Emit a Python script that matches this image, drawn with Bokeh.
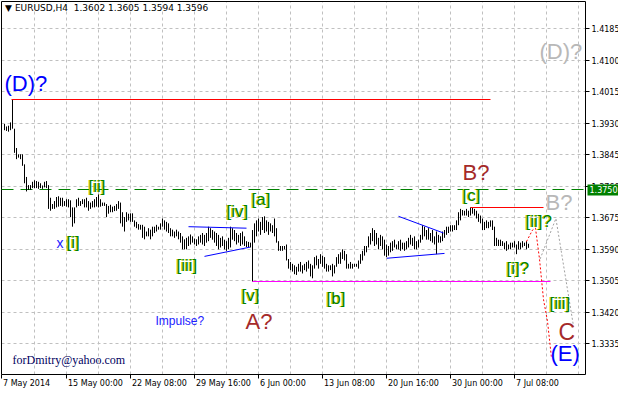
from bokeh.plotting import figure
from bokeh.models import Range1d, Label, ColumnDataSource
from bokeh.core.properties import value
from bokeh.embed import file_html
from bokeh.resources import INLINE

# ---------------- data (EURUSD H4) ----------------
highs = [
    1.3928, 1.3921, 1.3923, 1.3932, 1.3995, 1.3915, 1.3863, 1.3846, 1.3846, 1.3846,
    1.3819, 1.3785, 1.3763, 1.3763, 1.3772, 1.3776, 1.3774, 1.3772, 1.3768, 1.3762,
    1.3772, 1.3774, 1.3763, 1.3729, 1.3712, 1.3720, 1.3731, 1.3733, 1.3729, 1.3729,
    1.3720, 1.3725, 1.3725, 1.3722, 1.3703, 1.3703, 1.3725, 1.3729, 1.3720, 1.3725,
    1.3725, 1.3729, 1.3720, 1.3716, 1.3720, 1.3725, 1.3731, 1.3738, 1.3725, 1.3716,
    1.3716, 1.3712, 1.3707, 1.3710, 1.3705, 1.3707, 1.3712, 1.3720, 1.3716, 1.3690,
    1.3677, 1.3690, 1.3686, 1.3687, 1.3687, 1.3668, 1.3664, 1.3658, 1.3656, 1.3656,
    1.3651, 1.3638, 1.3647, 1.3643, 1.3651, 1.3651, 1.3656, 1.3651, 1.3660, 1.3673,
    1.3668, 1.3664, 1.3660, 1.3647, 1.3643, 1.3638, 1.3643, 1.3638, 1.3634, 1.3625,
    1.3617, 1.3621, 1.3625, 1.3630, 1.3625, 1.3619, 1.3617, 1.3625, 1.3629, 1.3634,
    1.3629, 1.3634, 1.3651, 1.3647, 1.3642, 1.3638, 1.3634, 1.3629, 1.3621, 1.3625,
    1.3616, 1.3612, 1.3621, 1.3651, 1.3647, 1.3642, 1.3634, 1.3629, 1.3634, 1.3638,
    1.3625, 1.3612, 1.3610, 1.3608, 1.3642, 1.3660, 1.3668, 1.3673, 1.3664, 1.3677,
    1.3679, 1.3668, 1.3664, 1.3660, 1.3655, 1.3673, 1.3647, 1.3612, 1.3599, 1.3599,
    1.3599, 1.3603, 1.3564, 1.3556, 1.3551, 1.3547, 1.3543, 1.3551, 1.3556, 1.3547,
    1.3551, 1.3556, 1.3560, 1.3551, 1.3547, 1.3569, 1.3573, 1.3564, 1.3577, 1.3573,
    1.3569, 1.3551, 1.3547, 1.3547, 1.3551, 1.3547, 1.3569, 1.3577, 1.3582, 1.3590,
    1.3586, 1.3577, 1.3551, 1.3556, 1.3551, 1.3551, 1.3551, 1.3560, 1.3577, 1.3586,
    1.3599, 1.3599, 1.3625, 1.3634, 1.3647, 1.3642, 1.3634, 1.3621, 1.3629, 1.3625,
    1.3616, 1.3603, 1.3599, 1.3608, 1.3612, 1.3616, 1.3603, 1.3612, 1.3616, 1.3608,
    1.3608, 1.3612, 1.3621, 1.3629, 1.3621, 1.3625, 1.3612, 1.3616, 1.3629, 1.3655,
    1.3651, 1.3642, 1.3647, 1.3634, 1.3642, 1.3625, 1.3638, 1.3629, 1.3625, 1.3638,
    1.3642, 1.3651, 1.3651, 1.3655, 1.3655, 1.3655, 1.3668, 1.3690, 1.3699, 1.3696,
    1.3694, 1.3699, 1.3694, 1.3703, 1.3703, 1.3699, 1.3694, 1.3686, 1.3681, 1.3673,
    1.3664, 1.3668, 1.3664, 1.3668, 1.3668, 1.3651, 1.3621, 1.3616, 1.3616, 1.3612,
    1.3608, 1.3612, 1.3603, 1.3608, 1.3608, 1.3612, 1.3603, 1.3612, 1.3608, 1.3612,
    1.3608, 1.3612, 1.3605,
]
lows = [
    1.3911, 1.3909, 1.3907, 1.3911, 1.3915, 1.3850, 1.3833, 1.3837, 1.3833, 1.3815,
    1.3768, 1.3746, 1.3750, 1.3750, 1.3755, 1.3755, 1.3755, 1.3753, 1.3755, 1.3753,
    1.3757, 1.3755, 1.3699, 1.3694, 1.3699, 1.3699, 1.3703, 1.3705, 1.3707, 1.3705,
    1.3707, 1.3705, 1.3703, 1.3677, 1.3651, 1.3660, 1.3703, 1.3707, 1.3707, 1.3712,
    1.3703, 1.3703, 1.3694, 1.3699, 1.3703, 1.3703, 1.3705, 1.3703, 1.3705, 1.3707,
    1.3707, 1.3677, 1.3686, 1.3690, 1.3690, 1.3693, 1.3694, 1.3699, 1.3660, 1.3651,
    1.3638, 1.3664, 1.3668, 1.3664, 1.3664, 1.3651, 1.3647, 1.3643, 1.3643, 1.3621,
    1.3617, 1.3625, 1.3625, 1.3617, 1.3625, 1.3634, 1.3638, 1.3643, 1.3643, 1.3651,
    1.3643, 1.3638, 1.3634, 1.3625, 1.3625, 1.3621, 1.3625, 1.3617, 1.3608, 1.3590,
    1.3590, 1.3590, 1.3599, 1.3603, 1.3608, 1.3603, 1.3599, 1.3603, 1.3608, 1.3603,
    1.3599, 1.3608, 1.3612, 1.3621, 1.3616, 1.3608, 1.3599, 1.3590, 1.3595, 1.3599,
    1.3590, 1.3586, 1.3590, 1.3595, 1.3616, 1.3612, 1.3603, 1.3608, 1.3599, 1.3603,
    1.3599, 1.3596, 1.3595, 1.3595, 1.3503, 1.3608, 1.3625, 1.3638, 1.3629, 1.3642,
    1.3634, 1.3638, 1.3629, 1.3638, 1.3634, 1.3625, 1.3608, 1.3586, 1.3586, 1.3586,
    1.3590, 1.3560, 1.3538, 1.3534, 1.3530, 1.3523, 1.3521, 1.3530, 1.3530, 1.3525,
    1.3534, 1.3530, 1.3538, 1.3517, 1.3512, 1.3538, 1.3547, 1.3538, 1.3551, 1.3543,
    1.3538, 1.3530, 1.3530, 1.3534, 1.3517, 1.3525, 1.3543, 1.3551, 1.3551, 1.3564,
    1.3560, 1.3538, 1.3538, 1.3538, 1.3538, 1.3543, 1.3543, 1.3538, 1.3551, 1.3560,
    1.3573, 1.3582, 1.3595, 1.3603, 1.3612, 1.3599, 1.3603, 1.3590, 1.3599, 1.3590,
    1.3573, 1.3569, 1.3573, 1.3582, 1.3586, 1.3595, 1.3590, 1.3590, 1.3586, 1.3590,
    1.3586, 1.3590, 1.3595, 1.3603, 1.3599, 1.3590, 1.3590, 1.3595, 1.3608, 1.3616,
    1.3625, 1.3616, 1.3616, 1.3612, 1.3608, 1.3603, 1.3577, 1.3608, 1.3608, 1.3612,
    1.3621, 1.3629, 1.3634, 1.3638, 1.3638, 1.3642, 1.3642, 1.3655, 1.3668, 1.3681,
    1.3681, 1.3681, 1.3677, 1.3681, 1.3686, 1.3681, 1.3673, 1.3664, 1.3660, 1.3642,
    1.3642, 1.3647, 1.3647, 1.3651, 1.3642, 1.3599, 1.3599, 1.3599, 1.3599, 1.3599,
    1.3590, 1.3586, 1.3590, 1.3590, 1.3595, 1.3595, 1.3577, 1.3590, 1.3590, 1.3595,
    1.3599, 1.3590, 1.3594,
]
bar_index = list(range(len(highs)))

price_ticks = [1.3335, 1.3420, 1.3505, 1.3590, 1.3675, 1.3760, 1.3845, 1.3930, 1.4015, 1.4100, 1.4185]
price_labels = ["%.4f" % v for v in price_ticks]
time_ticks = [-1.5, 31, 63, 95, 127, 159, 191, 223, 255]
time_labels = ["7 May 2014", "15 May 00:00", "22 May 08:00", "29 May 16:00", "6 Jun 00:00",
               "13 Jun 08:00", "20 Jun 16:00", "30 Jun 00:00", "7 Jul 08:00"]
grid_ticks = list(range(15, 290, 16))

level_1375 = 1.3750
title_text = "\u25BC EURUSD,H4 \u00a01.3602 1.3605 1.3594 1.3596"

# trend lines drawn on the chart (bar index, price)
tri1_upper = ([92, 121], [1.3651, 1.3647])
tri1_lower = ([100, 122.8], [1.3571, 1.3596])
tri2_upper = ([197, 219.5], [1.3679, 1.3634])
tri2_lower = ([191.2, 220], [1.3566, 1.3579])
red_path = ([261, 264, 265.5, 267.5, 269.5, 271.5, 273.5],
            [1.3611, 1.3642, 1.3647, 1.3564, 1.3455, 1.3396, 1.3297])
gray_path = ([267.8, 275.7, 284.5], [1.3564, 1.3673, 1.3383])

# ---------------- figure (all drawing in one frame, 2 px per bar) ----------------
W, H = 618, 390
X0 = -2.0
Y_BOT, Y_TOP = 1.32528, 1.42577
PX = 373.0 / (Y_TOP - Y_BOT)          # pixels per price unit
LEFT_X = -1.5
AXIS_X = 290.5
YS = Y_BOT - 16 / PX
YE = Y_TOP + 1 / PX


def dy(px):
    return px / PX


def snap(v):
    """Move a horizontal line onto a whole device pixel so that it stays crisp."""
    return YE - round((YE - v) * PX) / PX


p = figure(width=W, height=H, x_range=Range1d(X0, X0 + W / 2.0), y_range=Range1d(YS, YE),
           x_axis_location=None, y_axis_location=None, output_backend="svg", toolbar_location=None,
           min_border_left=0, min_border_right=0, min_border_top=0, min_border_bottom=0)
p.background_fill_color = "white"
p.border_fill_color = "white"
p.outline_line_color = None
p.xgrid.visible = False
p.ygrid.visible = False

grid_col = "#c0c0c0"
n = len(price_ticks)
m = len(grid_ticks)
tick_y = [snap(v) for v in price_ticks]
yb, yt = snap(Y_BOT), snap(Y_TOP)

# grid
p.segment(x0=[LEFT_X] * n, y0=tick_y, x1=[AXIS_X] * n, y1=tick_y,
          line_color=grid_col, line_dash="3 3", line_width=1)
p.segment(x0=grid_ticks, y0=[yb] * m, x1=grid_ticks, y1=[yt] * m,
          line_color=grid_col, line_dash="3 3", line_width=1)

# frame borders and price axis
p.segment(x0=[LEFT_X, LEFT_X, LEFT_X, AXIS_X], y0=[yb, yt, yb, yb],
          x1=[LEFT_X, AXIS_X, AXIS_X, AXIS_X], y1=[yt, yt, yb, yt],
          line_color="black", line_width=1)
p.segment(x0=[AXIS_X] * n, y0=tick_y, x1=[AXIS_X + 2] * n, y1=tick_y,
          line_color="black", line_width=1)
p.text(x=[AXIS_X + 3] * n, y=price_ticks, text=price_labels, text_font=value("DejaVu Sans"),
       text_font_size="8px", text_color="black", text_align="left", text_baseline="middle")

# time axis
k = len(time_ticks)
p.segment(x0=time_ticks, y0=[yb] * k, x1=time_ticks, y1=[yb - dy(4)] * k,
          line_color="black", line_width=1)
p.text(x=[t + 0.75 for t in time_ticks], y=[yb - dy(4)] * k, text=time_labels,
       text_font=value("DejaVu Sans"), text_font_size="8px", text_color="black",
       text_align="left", text_baseline="top")

# green dashed level
p.segment(x0=[LEFT_X], y0=[snap(level_1375)], x1=[AXIS_X], y1=[snap(level_1375)],
          line_color="#008000", line_width=1, line_dash="12 7")

# bars
src = ColumnDataSource(dict(x=bar_index, high=highs, low=lows))
p.segment(x0="x", y0="low", x1="x", y1="high", source=src, line_color="black", line_width=1)

# levels
top_i = highs.index(max(highs))
top_y = snap(max(highs))
p.segment(x0=[top_i - 0.5], y0=[top_y], x1=[243], y1=[top_y], line_color="#ff0000", line_width=1)
low_i = lows.index(min(lows))
low_y = snap(min(lows))
p.segment(x0=[low_i], y0=[low_y], x1=[273], y1=[low_y], line_color="#ff00ff", line_width=1)
c_y = snap(max(highs[225:241]))
p.segment(x0=[233], y0=[c_y], x1=[269.5], y1=[c_y], line_color="#ff0000", line_width=1)

for xs, ys in (tri1_upper, tri1_lower, tri2_upper, tri2_lower):
    p.line(xs, ys, line_color="#0000ff", line_width=1)
p.line(red_path[0], red_path[1], line_color="#ff0000", line_width=1, line_dash="2 2")
p.line(gray_path[0], gray_path[1], line_color="#a0a0a0", line_width=1, line_dash="2 2")


def txt(x, y, text, size, color, font="Liberation Sans", xo=0):
    p.add_layout(Label(x=x, y=y, text=text, text_font=font, text_font_size=size,
                       text_color=color, text_align="left", text_baseline="middle", x_offset=xo))


def wave(x, y, text, size="17px"):
    txt(x, y, text, size, "#d0d000", xo=-1)
    txt(x, y, text, size, "#008000")


txt(0.3, 1.4240, title_text, "9px", "black", font="DejaVu Sans")
txt(0, 1.4037, "(D)?", "22px", "#0000ff")
txt(267.5, 1.4123, "(D)?", "22px", "#b8b8b8")
txt(26, 1.3606, "x", "14px", "#2020ff")
wave(31, 1.3609, "[i]")
wave(42, 1.3759, "[ii]")
wave(86, 1.3546, "[iii]")
wave(111, 1.3692, "[iv]")
wave(123.5, 1.3723, "[a]")
wave(118.5, 1.3466, "[v]")
wave(161, 1.3458, "[b]")
wave(229, 1.3736, "[c]")
txt(229, 1.3796, "B?", "22px", "#a52a2a")
txt(120.5, 1.3396, "A?", "22px", "#a52a2a")
txt(75.5, 1.3398, "Impulse?", "12px", "#2020ff")
txt(4, 1.3292, "forDmitry@yahoo.com", "12px", "#000060", font="Liberation Serif")
wave(251, 1.3538, "[i]?")
wave(260.5, 1.3666, "[ii]?")
txt(270.5, 1.3715, "B?", "22px", "#b8b8b8")
wave(272.5, 1.3444, "[iii]")
txt(277, 1.3367, "C", "23px", "#a52a2a")
txt(273, 1.3310, "(E)", "22px", "#0000ff")

# current level marker on the price axis
p.add_layout(Label(x=AXIS_X + 0.5, y=level_1375, text="1.3750", text_font="DejaVu Sans",
                   text_font_size="8px", text_color="white", background_fill_color="#008000",
                   text_align="left", text_baseline="middle", x_offset=1, padding=2))

open("out.html", "w").write(file_html(p, INLINE))
